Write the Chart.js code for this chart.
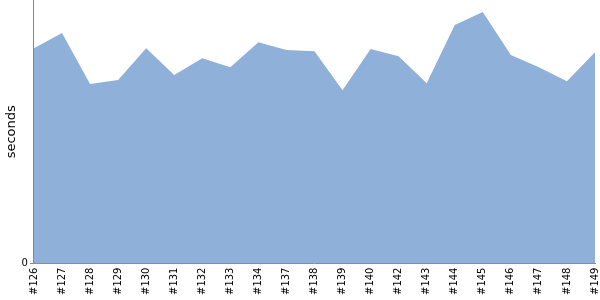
<!DOCTYPE html>
<html><head><meta charset="utf-8">
<script src="https://cdn.jsdelivr.net/npm/chart.js@4/dist/chart.umd.min.js"></script>
<style>html,body{margin:0;padding:0;background:#fff}#wrap{width:600px;height:300px}</style>
</head><body><div id="wrap"><canvas id="c" width="600" height="300"></canvas></div>
<script>
const builds = ['#126','#127','#128','#129','#130','#131','#132','#133','#134','#137','#138','#139','#140','#142','#143','#144','#145','#146','#147','#148','#149'];
const seconds = [81.7,87.5,68.1,69.6,81.7,71.5,77.9,74.5,84.0,81.0,80.6,65.8,81.4,78.7,68.4,90.5,95.4,79.1,74.5,69.2,80.2];
const yMax = 100;

Chart.defaults.font.family = 'DejaVu Sans';
new Chart(document.getElementById('c'), {
  type: 'line',
  data: { labels: builds, datasets: [{
    data: seconds, fill: 'origin', backgroundColor: '#8fb1d9', borderColor: '#8fb1d9',
    borderWidth: 0, pointRadius: 0, tension: 0
  }]},
  options: {
    responsive: false, animation: false,
    layout: { padding: { left: 4, top: 0, right: 0, bottom: 1 } },
    plugins: { legend: { display: false }, tooltip: { enabled: false } },
    scales: {
      x: { offset: false, grid: { display: false, drawTicks: false },
           border: { color: '#888', width: 1 },
           afterFit: (s) => { s.paddingRight = 5; },
           ticks: { autoSkip: false, minRotation: 90, maxRotation: 90, color: '#000', font: { size: 10 }, padding: 4 } },
      y: { min: 0, max: yMax,
           afterBuildTicks: (s) => { s.ticks = [{ value: 0 }]; },
           afterFit: (s) => { s.paddingTop = 0; },
           grid: { drawOnChartArea: false, tickLength: 4, color: '#888' },
           border: { color: '#888', width: 1 },
           ticks: { color: '#000', font: { size: 10 }, padding: 2 },
           title: { display: true, text: 'seconds', color: '#000', font: { size: 13 }, padding: 0 } }
    }
  }
});
</script></body></html>
